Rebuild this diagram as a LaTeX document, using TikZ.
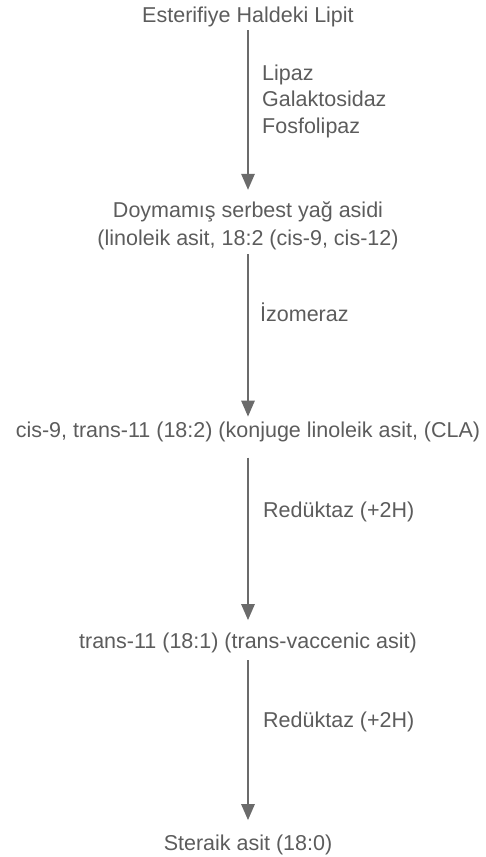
\documentclass[tikz,border=0pt]{standalone}
\usepackage{fontspec}
\setmainfont{Liberation Sans}
\usetikzlibrary{arrows.meta}

\definecolor{scanink}{gray}{0.36}
\definecolor{scanline}{gray}{0.42}

\begin{document}
\begin{tikzpicture}[
    x=1pt, y=-1pt,
    acid/.style={inner sep=0pt, anchor=base, align=center, text=scanink,
                 font=\fontsize{21.5}{28}\selectfont},
    enzyme/.style={inner sep=0pt, anchor=base west, align=left, text=scanink,
                   font=\fontsize{21.5}{26.5}\selectfont},
    flow/.style={draw=scanline, line width=2.6pt,
                 -{Triangle[length=16pt, width=13pt]}},
  ]
  \useasboundingbox (0,0) rectangle (485,857);

  % Substances (top to bottom), base = last line
  \node[acid] (lipit)    at (248, 22)  {Esterifiye Haldeki Lipit};
  \node[acid] (serbest)  at (248, 245) {Doymamış serbest yağ asidi\\(linoleik asit, 18:2 (cis-9, cis-12)};
  \node[acid] (cla)      at (248, 437) {cis-9, trans-11 (18:2) (konjuge linoleik asit, (CLA)};
  \node[acid] (vaccenic) at (248, 648) {trans-11 (18:1) (trans-vaccenic asit)};
  \node[acid] (stearik)  at (248, 850) {Steraik asit (18:0)};

  % Enzymes
  \node[enzyme] (lipaz)     at (262, 133) {Lipaz\\Galaktosidaz\\Fosfolipaz};
  \node[enzyme] (izomeraz)  at (260, 321) {İzomeraz};
  \node[enzyme] (reduktaza) at (263, 517) {Redüktaz (+2H)};
  \node[enzyme] (reduktazb) at (263, 727) {Redüktaz (+2H)};

  % Steps
  \draw[flow, shorten <=3.5pt, shorten >=11pt] (lipit) -- (serbest);
  \draw[flow, shorten <=4.5pt, shorten >=4.5pt] (serbest) -- (cla);
  \draw[flow, shorten <=16pt, shorten >=12pt] (cla) -- (vaccenic);
  \draw[flow, shorten <=7.5pt, shorten >=14pt] (vaccenic) -- (stearik);
\end{tikzpicture}
\end{document}
